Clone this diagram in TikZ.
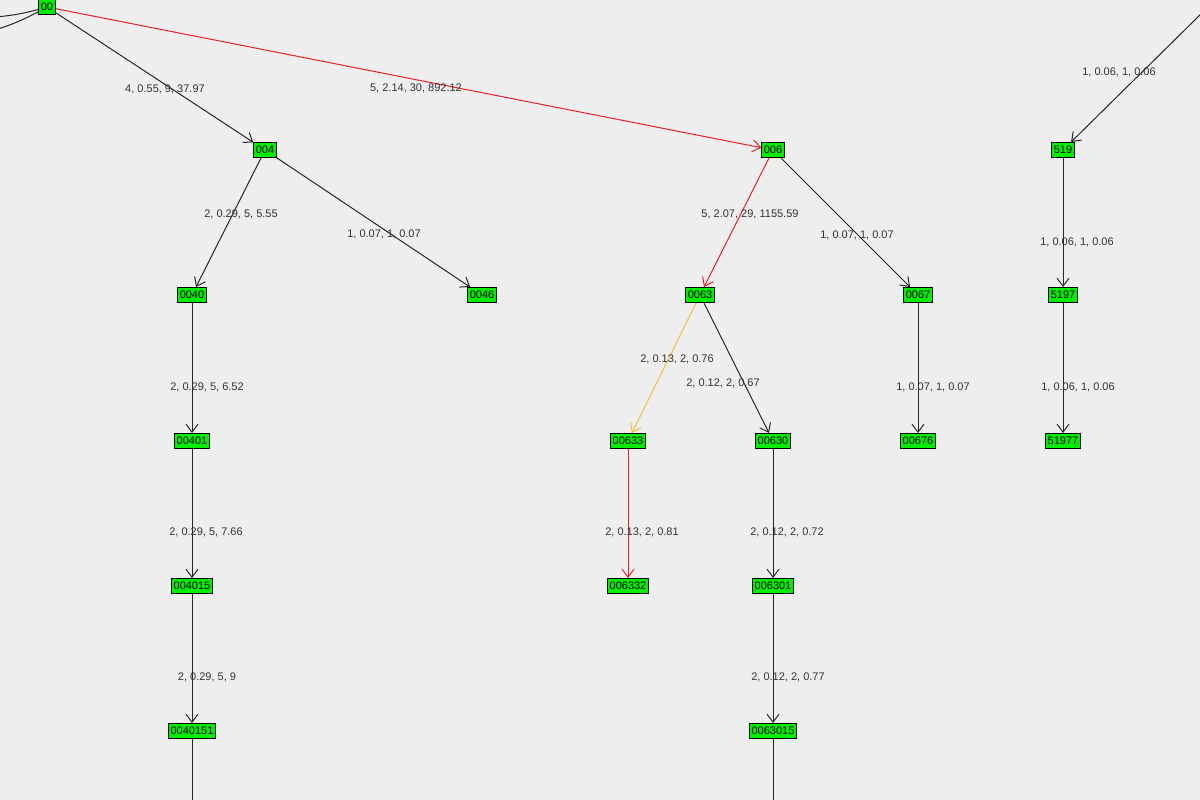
\documentclass[tikz,border=0pt]{standalone}
\usepackage{fontspec}
\setmainfont{Liberation Sans}
\usetikzlibrary{arrows.meta}
\definecolor{bg}{HTML}{EEEEEE}
\definecolor{leaf}{HTML}{00EE00}
\definecolor{hot}{HTML}{E8202A}
\definecolor{warm}{HTML}{EEC33A}
\tikzset{
  vert/.style={draw=black,fill=leaf,inner sep=2pt,minimum height=15pt,line width=1pt,font=\fontsize{11}{12}\selectfont},
  edge/.style={->,>={Straight Barb[length=8,width=12]},draw=black!85,line width=1pt},
  lbl/.style={font=\fontsize{11}{12}\selectfont,text=black!80}
}
\begin{document}
\begin{tikzpicture}[x=1pt,y=-1pt]
      \fill[bg] (0,0) rectangle (1200,800);
      \useasboundingbox (0,0) rectangle (1200,800);
      \clip (0,0) rectangle (1200,800);
      % nodes
      \node[vert] (n00) at (47,7) {00};
      \node[vert] (n004) at (265,150) {004};
      \node[vert] (n006) at (773,150) {006};
      \node[vert] (n519) at (1063,150) {519};
      \node[vert] (n0040) at (192,295) {0040};
      \node[vert] (n0046) at (482,295) {0046};
      \node[vert] (n0063) at (700,295) {0063};
      \node[vert] (n0067) at (918,295) {0067};
      \node[vert] (n5197) at (1063,295) {5197};
      \node[vert] (n5198) at (1219,295) {5198};
      \node[vert] (n00401) at (192,441) {00401};
      \node[vert] (n00633) at (628,441) {00633};
      \node[vert] (n00630) at (773,441) {00630};
      \node[vert] (n00676) at (918,441) {00676};
      \node[vert] (n51977) at (1063,441) {51977};
      \node[vert] (n004015) at (192,586) {004015};
      \node[vert] (n006332) at (628,586) {006332};
      \node[vert] (n006301) at (773,586) {006301};
      \node[vert] (n0040151) at (192,731) {0040151};
      \node[vert] (n0063015) at (773,731) {0063015};
      \coordinate (inA) at (-5,17);
      \coordinate (inB) at (-5,30);
      \coordinate (in519) at (1205,10);
      \coordinate (outA) at (192,810);
      \coordinate (outB) at (773,810);
      % edges
      \draw[draw=black!85,line width=1pt] (n00) to[bend left=5] (inA);
      \draw[draw=black!85,line width=1pt] (n00) to[bend left=5] (inB);
      \draw[edge] (n00) -- (n004);
      \draw[edge,draw=hot] (n00) -- (n006);
      \draw[edge] (in519) -- (n519);
      \draw[edge] (n004) -- (n0040);
      \draw[edge] (n004) -- (n0046);
      \draw[edge,draw=hot] (n006) -- (n0063);
      \draw[edge] (n006) -- (n0067);
      \draw[edge] (n519) -- (n5197);
      \draw[edge] (n0040) -- (n00401);
      \draw[edge,draw=warm] (n0063) -- (n00633);
      \draw[edge] (n0063) -- (n00630);
      \draw[edge] (n0067) -- (n00676);
      \draw[edge] (n5197) -- (n51977);
      \draw[edge] (n00401) -- (n004015);
      \draw[edge,draw=hot] (n00633) -- (n006332);
      \draw[edge] (n00630) -- (n006301);
      \draw[edge] (n004015) -- (n0040151);
      \draw[edge] (n006301) -- (n0063015);
      \draw[draw=black!85,line width=1pt] (n0040151) -- (outA);
      \draw[draw=black!85,line width=1pt] (n0063015) -- (outB);
      % labels
      \node[lbl] at (165,89) {4, 0.55, 9, 37.97};
      \node[lbl] at (416,88) {5, 2.14, 30, 892.12};
      \node[lbl] at (1119,72) {1, 0.06, 1, 0.06};
      \node[lbl] at (241,214) {2, 0.29, 5, 5.55};
      \node[lbl] at (384,234) {1, 0.07, 1, 0.07};
      \node[lbl] at (750,214) {5, 2.07, 29, 1155.59};
      \node[lbl] at (857,235) {1, 0.07, 1, 0.07};
      \node[lbl] at (1077,242) {1, 0.06, 1, 0.06};
      \node[lbl] at (207,387) {2, 0.29, 5, 6.52};
      \node[lbl] at (677,359) {2, 0.13, 2, 0.76};
      \node[lbl] at (723,383) {2, 0.12, 2, 0.67};
      \node[lbl] at (933,387) {1, 0.07, 1, 0.07};
      \node[lbl] at (1078,387) {1, 0.06, 1, 0.06};
      \node[lbl] at (206,532) {2, 0.29, 5, 7.66};
      \node[lbl] at (642,532) {2, 0.13, 2, 0.81};
      \node[lbl] at (787,532) {2, 0.12, 2, 0.72};
      \node[lbl] at (207,677) {2, 0.29, 5, 9};
      \node[lbl] at (788,677) {2, 0.12, 2, 0.77};
\end{tikzpicture}
\end{document}
